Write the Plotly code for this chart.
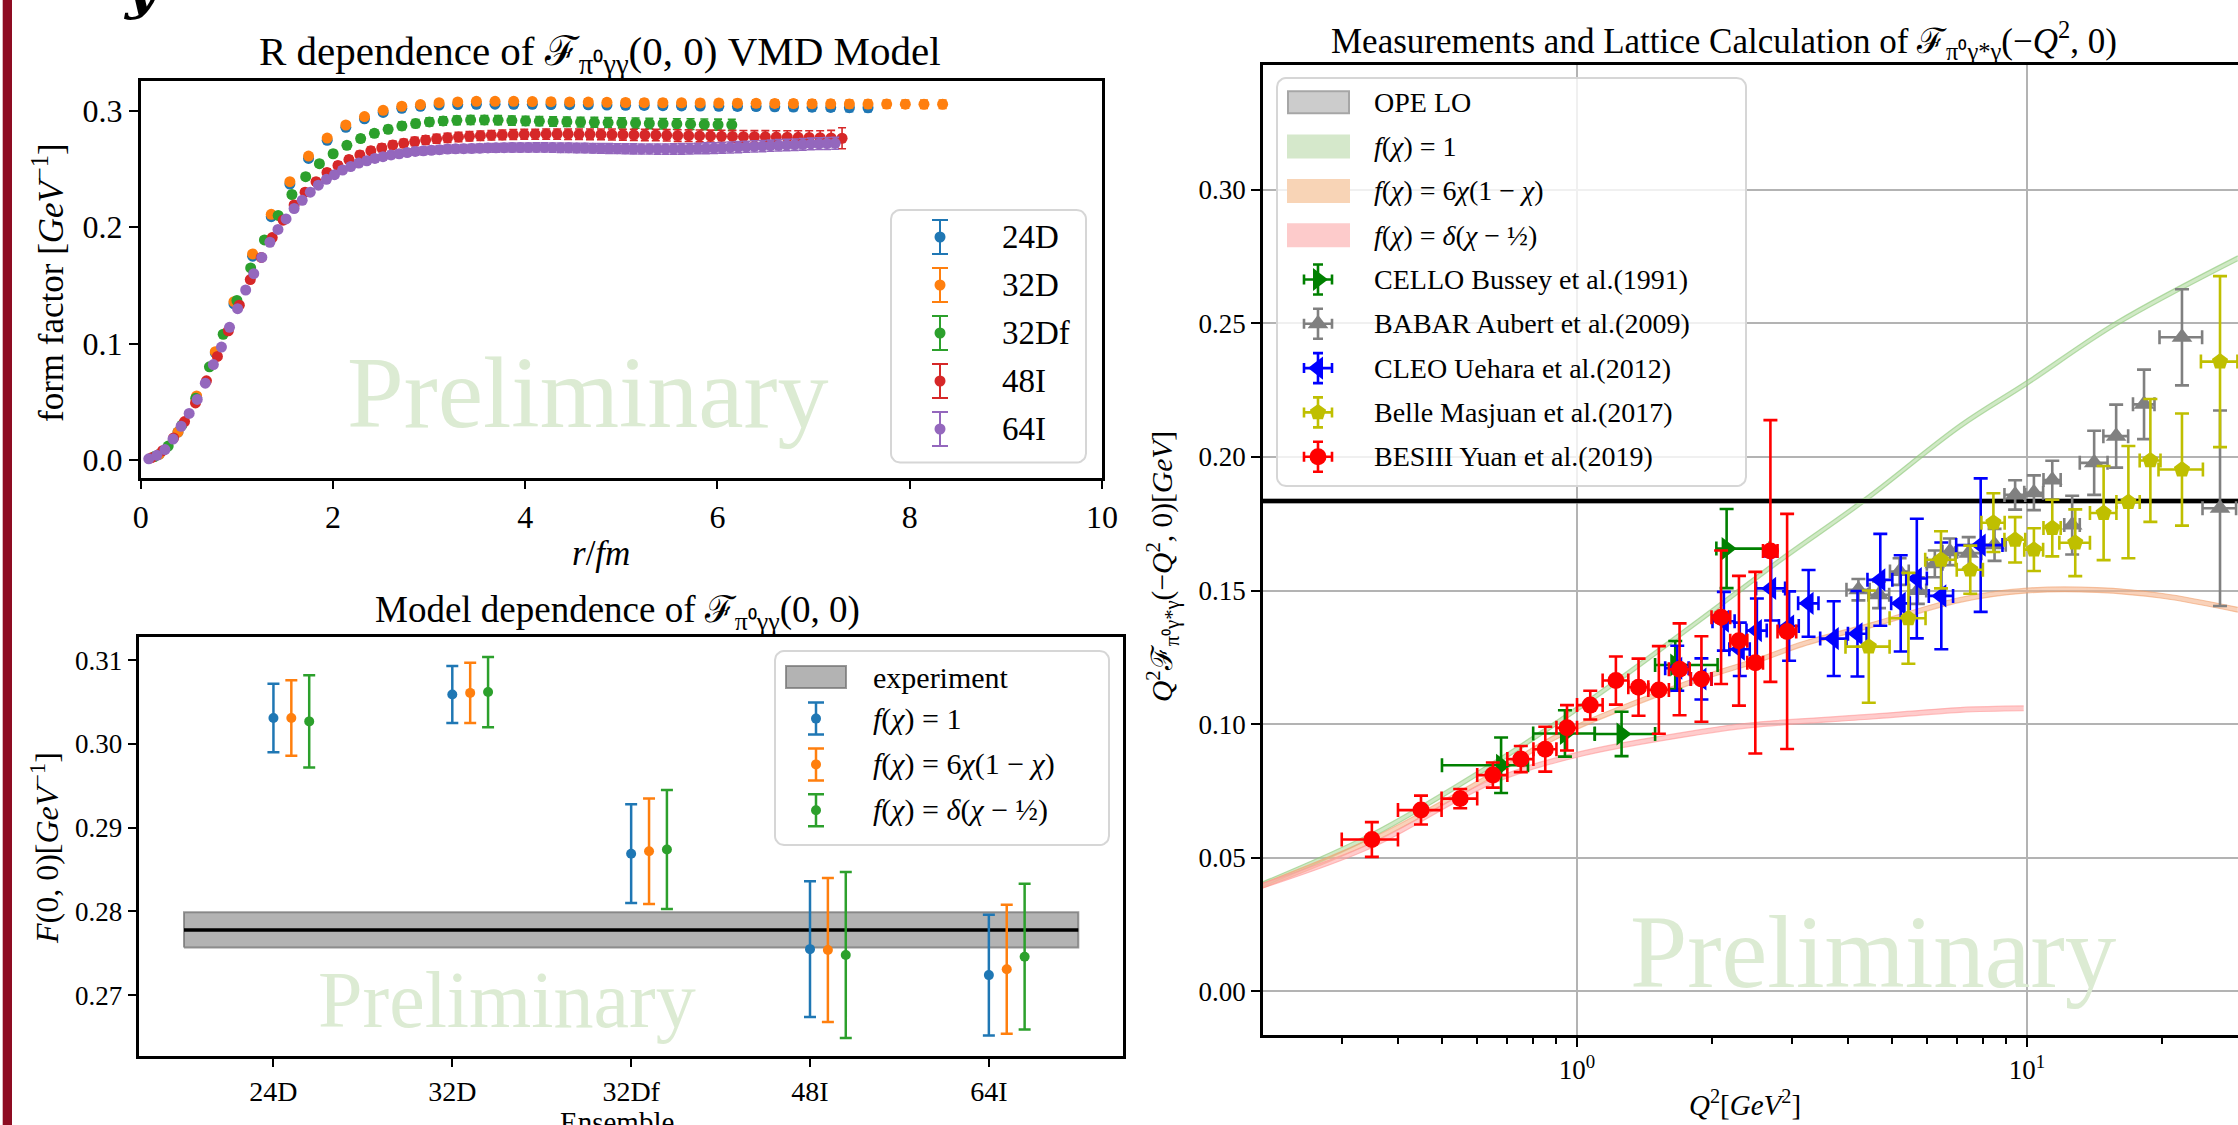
import numpy as np
import plotly.graph_objects as go

W, H = 2238, 1125
FONT = "Liberation Serif"

# ---------------- top-left: R dependence (VMD model) ----------------
a_24D, a_32D, a_32Df, a_48I, a_64I = 0.194, 0.194, 0.143, 0.114, 0.084
ff_24D = [0.005,0.024,0.054,0.092,0.134,0.175,0.209,0.237,0.259,0.2745,
          0.2857,0.293,0.2985,0.302,0.3037,0.3048,0.3053,0.3055,0.3056,0.3055,
          0.3054,0.3053,0.3051,0.3050,0.3048,0.3046,0.3045,0.3043,0.3041,0.3040,
          0.3038,0.3036,0.3035,0.3033,0.3031,0.3030,0.3028,0.3026,0.3025]
err_24D = [0.0005,0.0008,0.0010,0.0012,0.0013,0.0014,0.0015,0.0016,0.0017,0.0018,
           0.0019,0.0020,0.0021,0.0022,0.0022,0.0023,0.0023,0.0024,0.0024,0.0025,
           0.0025,0.0026,0.0026,0.0027,0.0027,0.0028,0.0028,0.0029,0.0029,0.0030,
           0.0030,0.0031,0.0031,0.0032,0.0032,0.0033,0.0033,0.0034,0.0034]
ff_32D = [0.005,0.024,0.055,0.093,0.136,0.177,0.211,0.239,0.261,0.2765,
          0.2877,0.2949,0.3003,0.3038,0.3052,0.3069,0.3075,0.3080,0.3080,0.3080,
          0.3078,0.3077,0.3075,0.3074,0.3072,0.3070,0.3069,0.3068,0.3067,0.3066,
          0.3065,0.3064,0.3063,0.3062,0.3061,0.3060,0.3059,0.3058,0.3057,0.3057,
          0.3056,0.3055,0.3055]
err_32D = [0.0005,0.0008,0.0010,0.0012,0.0013,0.0014,0.0015,0.0016,0.0017,0.0018,
           0.0019,0.0020,0.0021,0.0022,0.0022,0.0023,0.0023,0.0024,0.0024,0.0025,
           0.0025,0.0026,0.0026,0.0027,0.0027,0.0028,0.0028,0.0029,0.0029,0.0030,
           0.0030,0.0031,0.0031,0.0032,0.0032,0.0033,0.0033,0.0034,0.0034,0.0035,
           0.0035,0.0036,0.0036]
ff_32Df = [0.003,0.012,0.030,0.053,0.080,0.108,0.137,0.165,0.189,0.210,
           0.228,0.2433,0.2545,0.263,0.2702,0.276,0.2805,0.284,0.2869,0.2889,
           0.2903,0.2912,0.2917,0.2920,0.2920,0.2918,0.2915,0.2912,0.2910,0.2907,
           0.2905,0.2902,0.2900,0.2898,0.2895,0.2893,0.2890,0.2888,0.2886,0.2884,
           0.2882,0.2880,0.2878]
err_32Df = [0.0005,0.0008,0.0010,0.0012,0.0014,0.0016,0.0018,0.0020,0.0022,0.0024,
            0.0025,0.0026,0.0027,0.0028,0.0029,0.0030,0.0031,0.0032,0.0033,0.0034,
            0.0035,0.0036,0.0037,0.0038,0.0038,0.0039,0.0039,0.0040,0.0040,0.0041,
            0.0041,0.0042,0.0042,0.0043,0.0043,0.0044,0.0044,0.0045,0.0045,0.0046,
            0.0046,0.0047,0.0047]
ff_48I = [0.002,0.008,0.019,0.033,0.049,0.068,0.089,0.111,0.133,0.155,
          0.174,0.191,0.206,0.219,0.230,0.239,0.247,0.253,0.258,0.262,
          0.2655,0.268,0.2705,0.272,0.2735,0.2748,0.2758,0.2767,0.2774,0.278,
          0.2785,0.2789,0.2792,0.2795,0.2797,0.2798,0.2799,0.2799,0.2798,0.2797,
          0.2797,0.2796,0.2795,0.2794,0.2793,0.2791,0.2790,0.2788,0.2786,0.2785,
          0.2783,0.2782,0.2780,0.2779,0.2777,0.2776,0.2775,0.2773,0.2772,0.2771,
          0.2770,0.2768,0.2766,0.2763]
err_48I = [0.0004,0.0006,0.0008,0.0010,0.0012,0.0014,0.0016,0.0018,0.0020,0.0021,
           0.0022,0.0023,0.0024,0.0025,0.0026,0.0027,0.0028,0.0029,0.0030,0.0031,
           0.0032,0.0033,0.0034,0.0035,0.0036,0.0037,0.0038,0.0039,0.0040,0.0040,
           0.0041,0.0041,0.0042,0.0042,0.0043,0.0043,0.0044,0.0044,0.0045,0.0045,
           0.0046,0.0046,0.0047,0.0047,0.0048,0.0048,0.0049,0.0049,0.0050,0.0050,
           0.0051,0.0051,0.0052,0.0052,0.0053,0.0053,0.0054,0.0055,0.0056,0.0057,
           0.0058,0.0060,0.0065,0.0090]
ff_64I = [0.001,0.004,0.009,0.018,0.029,0.040,0.052,0.066,0.082,0.097,
          0.114,0.130,0.146,0.160,0.174,0.187,0.198,0.207,0.216,0.223,
          0.230,0.236,0.241,0.245,0.249,0.252,0.255,0.257,0.259,0.2605,
          0.262,0.263,0.264,0.265,0.2655,0.266,0.2665,0.267,0.2672,0.2674,
          0.2676,0.2678,0.268,0.2681,0.2682,0.2683,0.2683,0.2684,0.2684,0.2684,
          0.2683,0.2682,0.2681,0.2680,0.2679,0.2677,0.2676,0.2675,0.2674,0.2673,
          0.2672,0.2671,0.2671,0.2670,0.2670,0.2671,0.2672,0.2673,0.2675,0.2677,
          0.2679,0.2681,0.2684,0.2687,0.2690,0.2693,0.2696,0.2699,0.2702,0.2705,
          0.2708,0.2711,0.2714,0.2716,0.2718,0.2720]
err_64I = [0.0003,0.0004,0.0005,0.0006,0.0007,0.0008,0.0009,0.0010,0.0011,0.0012,
           0.0013,0.0014,0.0015,0.0016,0.0017,0.0018,0.0019,0.0020,0.0021,0.0022,
           0.0023,0.0024,0.0025,0.0026,0.0027,0.0028,0.0029,0.0030,0.0030,0.0031,
           0.0031,0.0032,0.0032,0.0033,0.0033,0.0034,0.0034,0.0035,0.0035,0.0036,
           0.0036,0.0036,0.0037,0.0037,0.0037,0.0038,0.0038,0.0038,0.0039,0.0039,
           0.0039,0.0040,0.0040,0.0040,0.0041,0.0041,0.0041,0.0042,0.0042,0.0042,
           0.0043,0.0043,0.0043,0.0044,0.0044,0.0044,0.0045,0.0045,0.0045,0.0046,
           0.0046,0.0046,0.0047,0.0047,0.0047,0.0048,0.0048,0.0048,0.0049,0.0049,
           0.0049,0.0050,0.0050,0.0050,0.0051,0.0051]

# ---------------- bottom-left: model dependence ----------------
ensembles = ["24D", "32D", "32Df", "48I", "64I"]
F_flat = [0.3031, 0.3059, 0.2869, 0.2755, 0.2724]
E_flat = [0.0041, 0.0034, 0.0059, 0.0081, 0.0072]
F_asym = [0.3031, 0.3061, 0.2872, 0.2754, 0.2731]
E_asym = [0.0045, 0.0036, 0.0063, 0.0086, 0.0077]
F_delta = [0.3027, 0.3062, 0.2874, 0.2748, 0.2746]
E_delta = [0.0055, 0.0042, 0.0071, 0.0099, 0.0087]
exp_center, exp_err = 0.2778, 0.0021

# ---------------- right: measurements ----------------
ope_lo = 0.1835
q2_f1 = [0.2, 0.35, 0.65, 1.087, 1.877, 2.825, 4.37, 7.1, 9.98, 15.8, 29.4]
v_f1 = [0.040, 0.0584, 0.085, 0.1098, 0.139, 0.1613, 0.184, 0.2116, 0.2276, 0.250, 0.2744]
q2_f6 = [0.2, 0.35, 0.648, 0.917, 1.877, 2.55, 3.18, 4.5, 7.1, 10.0, 14.3, 20.0, 29.4]
v_f6 = [0.0395, 0.0565, 0.081, 0.096, 0.117, 0.1242, 0.130, 0.137, 0.1465, 0.150, 0.1502, 0.148, 0.1428]
q2_fd = [0.2, 0.35, 0.648, 1.0, 1.877, 2.436, 4.53, 7.1, 9.83]
v_fd = [0.0395, 0.0546, 0.0785, 0.0885, 0.097, 0.0996, 0.1028, 0.1053, 0.1059]

cello_q2 = [0.678, 0.94, 1.256, 1.653, 2.15]
cello_v = [0.0846, 0.0965, 0.0963, 0.1221, 0.1657]
cello_ey = [0.0104, 0.0087, 0.0083, 0.009, 0.0148]
cello_exm = [0.177, 0.141, 0.161, 0.162, 0.11]
cello_exp = [0.10, 0.155, 0.235, 0.40, 0.53]

babar_q2 = [4.22, 4.69, 5.21, 5.72, 6.24, 6.74, 7.42, 8.47, 9.41, 10.36, 11.38, 12.6, 14.1, 15.78, 18.2, 22.1, 26.85]
babar_v = [0.1503, 0.1484, 0.1571, 0.150, 0.160, 0.1645, 0.164, 0.1671, 0.1858, 0.1866, 0.1914, 0.1745, 0.1978, 0.2078, 0.2197, 0.2448, 0.1808]
babar_ey = [0.004, 0.005, 0.005, 0.005, 0.005, 0.005, 0.006, 0.006, 0.0055, 0.0065, 0.0072, 0.011, 0.012, 0.0118, 0.013, 0.018, 0.0366]
babar_ex = [0.25, 0.25, 0.25, 0.25, 0.25, 0.25, 0.5, 0.5, 0.5, 0.5, 0.5, 0.5, 1.0, 1.0, 1.0, 2.4, 2.3]

cleo_q2 = [1.67, 1.89, 2.12, 2.30, 2.51, 2.70, 2.96, 3.27, 3.72, 4.20, 4.72, 5.24, 5.69, 6.45, 7.89]
cleo_v = [0.1209, 0.1169, 0.1385, 0.128, 0.135, 0.1508, 0.1367, 0.1452, 0.132, 0.1338, 0.154, 0.1452, 0.1545, 0.148, 0.167]
cleo_ey = [0.0084, 0.0077, 0.011, 0.010, 0.012, 0.012, 0.013, 0.0125, 0.014, 0.016, 0.0172, 0.018, 0.0224, 0.02, 0.025]
cleo_ex = [0.1, 0.1, 0.12, 0.12, 0.13, 0.2, 0.15, 0.17, 0.25, 0.2, 0.3, 0.25, 0.3, 0.4, 0.93]

belle_q2 = [4.45, 5.45, 6.44, 7.48, 8.42, 9.41, 10.36, 11.38, 12.8, 14.8, 16.8, 18.8, 22.1, 26.85]
belle_v = [0.129, 0.1396, 0.1615, 0.1578, 0.1754, 0.169, 0.1653, 0.1734, 0.1679, 0.179, 0.1831, 0.1987, 0.1953, 0.2357]
belle_ey = [0.021, 0.017, 0.0107, 0.009, 0.011, 0.0085, 0.008, 0.0106, 0.0125, 0.0176, 0.021, 0.023, 0.021, 0.032]
belle_ex = [0.5, 0.5, 0.5, 0.5, 0.5, 0.5, 0.5, 0.5, 1.0, 1.0, 1.0, 1.0, 2.5, 2.5]

besiii_q2 = [0.35, 0.45, 0.55, 0.65, 0.75, 0.85, 0.95, 1.07, 1.22, 1.37, 1.52, 1.69, 1.89, 2.09, 2.29, 2.49, 2.69, 2.93]
besiii_v = [0.0568, 0.0678, 0.0721, 0.0809, 0.0869, 0.0906, 0.0986, 0.1071, 0.1163, 0.1138, 0.1128, 0.1205, 0.1169, 0.1400, 0.1312, 0.123, 0.1648, 0.1347]
besiii_ey = [0.0065, 0.0054, 0.0036, 0.0047, 0.0049, 0.0084, 0.0085, 0.0054, 0.009, 0.0107, 0.0164, 0.0172, 0.016, 0.025, 0.0243, 0.034, 0.049, 0.044]
besiii_ex = [0.05, 0.05, 0.05, 0.05, 0.05, 0.05, 0.05, 0.07, 0.08, 0.07, 0.08, 0.09, 0.1, 0.1, 0.1, 0.1, 0.1, 0.14]

# ------------------------------------------------------------------
fig = go.Figure()
TAB = ["#1f77b4", "#ff7f0e", "#2ca02c", "#d62728", "#9467bd"]

# top-left
tl = [("24D", a_24D, ff_24D, err_24D, TAB[0]),
      ("32D", a_32D, ff_32D, err_32D, TAB[1]),
      ("32Df", a_32Df, ff_32Df, err_32Df, TAB[2]),
      ("48I", a_48I, ff_48I, err_48I, TAB[3]),
      ("64I", a_64I, ff_64I, err_64I, TAB[4])]
for name, a, ff, er, c in tl:
    r = a * np.arange(1, len(ff) + 1)
    fig.add_trace(go.Scatter(
        x=r, y=ff, mode="markers", name=name,
        marker=dict(color=c, size=11, line=dict(width=0)),
        error_y=dict(type="data", array=er, color=c, thickness=1.6, width=4),
        xaxis="x", yaxis="y"))

# bottom-left
xi = np.arange(len(ensembles))
lo_edge, hi_edge = xi[0] - 0.5, xi[-1] + 0.5
EXP_FILL, EXP_LINE = "rgba(128,128,128,0.6)", "rgba(110,110,110,0.7)"
fig.add_trace(go.Scatter(
    x=[lo_edge, hi_edge, hi_edge, lo_edge, lo_edge],
    y=[exp_center - exp_err, exp_center - exp_err, exp_center + exp_err, exp_center + exp_err, exp_center - exp_err],
    fill="toself", fillcolor=EXP_FILL, mode="lines", line=dict(color=EXP_LINE, width=2),
    name="experiment", xaxis="x2", yaxis="y2"))
fig.add_trace(go.Scatter(x=[lo_edge, hi_edge], y=[exp_center, exp_center], mode="lines",
                         line=dict(color="black", width=3.5), hoverinfo="skip", xaxis="x2", yaxis="y2"))
LBL_F1 = "<i>f</i>(<i>χ</i>) = 1"
LBL_F6 = "<i>f</i>(<i>χ</i>) = 6<i>χ</i>(1 − <i>χ</i>)"
LBL_FD = "<i>f</i>(<i>χ</i>) = <i>δ</i>(<i>χ</i> − ½)"
bl = [(LBL_F1, F_flat, E_flat, TAB[0], 0.0),
      (LBL_F6, F_asym, E_asym, TAB[1], 0.1),
      (LBL_FD, F_delta, E_delta, TAB[2], 0.2)]
for name, F, E, c, off in bl:
    fig.add_trace(go.Scatter(
        x=xi + off, y=F, mode="markers", name=name,
        marker=dict(color=c, size=10, line=dict(width=0)),
        error_y=dict(type="data", array=E, color=c, thickness=2.5, width=6),
        xaxis="x2", yaxis="y2"))

# right: bands
hw = 0.0009
BANDS = [("OPE LO", "#cccccc", "#a6a6a6"),
         (LBL_F1, "#d5e8cb", "#d5e8cb"),
         (LBL_F6, "#f8d4b6", "#f8d4b6"),
         (LBL_FD, "#fdcbcb", "#fdcbcb")]

def band(q, v, fillc, linec):
    lo = [y - hw for y in v]
    hi = [y + hw for y in v]
    fig.add_trace(go.Scatter(x=q, y=lo, mode="lines", line=dict(color=linec, width=1.2, shape="spline"),
                             hoverinfo="skip", xaxis="x3", yaxis="y3"))
    fig.add_trace(go.Scatter(x=q, y=hi, mode="lines", line=dict(color=linec, width=1.2, shape="spline"),
                             fill="tonexty", fillcolor=fillc, xaxis="x3", yaxis="y3"))

xr = [0.1, 100]
band(xr, [ope_lo, ope_lo], "rgba(128,128,128,0.4)", "rgba(128,128,128,0.6)")
band(q2_f1, v_f1, "rgba(170,215,150,0.55)", "rgba(140,200,120,0.6)")
band(q2_f6, v_f6, "rgba(245,180,140,0.6)", "rgba(240,160,110,0.6)")
band(q2_fd, v_fd, "rgba(255,170,170,0.6)", "rgba(255,150,150,0.6)")
fig.add_trace(go.Scatter(x=xr, y=[ope_lo] * 2, mode="lines", line=dict(color="black", width=4),
                         hoverinfo="skip", xaxis="x3", yaxis="y3"))

DATA = [("CELLO Bussey et al.(1991)", "triangle-right", 20, "#008000"),
        ("BABAR Aubert et al.(2009)", "triangle-up", 18, "#808080"),
        ("CLEO Uehara et al.(2012)", "triangle-left", 20, "#0000ff"),
        ("Belle Masjuan et al.(2017)", "pentagon", 17, "#bfbf00"),
        ("BESIII Yuan et al.(2019)", "circle", 17, "#ff0000")]
sets = [(cello_q2, cello_v, cello_ey, cello_exp, cello_exm),
        (babar_q2, babar_v, babar_ey, babar_ex, None),
        (cleo_q2, cleo_v, cleo_ey, cleo_ex, None),
        (belle_q2, belle_v, belle_ey, belle_ex, None),
        (besiii_q2, besiii_v, besiii_ey, besiii_ex, None)]
for (name, sym, size, c), (q, v, ey, exp_, exm) in zip(DATA, sets):
    ex = dict(type="data", array=exp_, color=c, thickness=2.6, width=7)
    if exm is not None:
        ex.update(symmetric=False, arrayminus=exm)
    fig.add_trace(go.Scatter(
        x=q, y=v, mode="markers", name=name,
        marker=dict(symbol=sym, size=size, color=c, line=dict(width=0)),
        error_y=dict(type="data", array=ey, color=c, thickness=2.6, width=7),
        error_x=ex, xaxis="x3", yaxis="y3"))

# ---------------- legends (drawn on a pixel overlay axis) ----------------
def rounded_box(x0, y0, x1, y1, rad=9):
    xs, ys = [], []
    for cx, cy, a0 in [(x1 - rad, y0 + rad, -90), (x1 - rad, y1 - rad, 0),
                       (x0 + rad, y1 - rad, 90), (x0 + rad, y0 + rad, 180)]:
        t = np.radians(np.linspace(a0, a0 + 90, 8))
        xs += list(cx + rad * np.cos(t)); ys += list(cy + rad * np.sin(t))
    return xs + xs[:1], ys + ys[:1]

def legend_box(x0, y0, x1, y1):
    bx, by = rounded_box(x0, y0, x1, y1)
    fig.add_trace(go.Scatter(x=bx, y=by, mode="lines", fill="toself",
                             fillcolor="rgba(255,255,255,0.8)", line=dict(color="#d6d6d6", width=2),
                             hoverinfo="skip", xaxis="x4", yaxis="y4"))

def legend_marker(x, y, c, sym, size, ey, ex, cap, thick):
    kw = dict(error_y=dict(type="data", array=[ey], color=c, thickness=thick, width=cap))
    if ex:
        kw["error_x"] = dict(type="data", array=[ex], color=c, thickness=thick, width=cap)
    fig.add_trace(go.Scatter(x=[x], y=[y], mode="markers",
                             marker=dict(symbol=sym, size=size, color=c, line=dict(width=0)),
                             hoverinfo="skip", xaxis="x4", yaxis="y4", **kw))

def legend_text(text, x, y, size):
    fig.add_annotation(text=text, x=x / W, y=1 - y / H, xref="paper", yref="paper", showarrow=False,
                       xanchor="left", yanchor="middle", font=dict(family=FONT, size=size, color="black"))

def swatch(x0, x1, y, h, fillc, linec):
    fig.add_shape(type="rect", xref="paper", yref="paper", x0=x0 / W, x1=x1 / W,
                  y0=1 - (y + h / 2) / H, y1=1 - (y - h / 2) / H, fillcolor=fillc,
                  line=dict(color=linec, width=2), layer="above")

# top-left legend
legend_box(891, 210, 1086, 462.5)
for k, (name, _, _, _, c) in enumerate(tl):
    yy = 237 + 48 * k
    legend_marker(940, yy, c, "circle", 11, 17, None, 8, 2)
    legend_text(name, 1000, yy, 33)

# bottom-left legend
legend_box(775, 651, 1109, 845)
swatch(786, 846, 677, 22, EXP_FILL, EXP_LINE)
legend_text("experiment", 871, 677, 30)
for k, (name, _, _, c, _) in enumerate(bl):
    yy = 718.6 + 45.8 * k
    legend_marker(816, yy, c, "circle", 10, 16, None, 8, 2.5)
    legend_text(name, 871, yy, 30)

# right legend
legend_box(1277, 78, 1746, 486)
for k, (name, fc, lc) in enumerate(BANDS):
    yy = 102.3 + 44.3 * k
    swatch(1288, 1349, yy, 22, fc, lc)
    legend_text(name, 1372, yy, 28)
for k, (name, sym, size, c) in enumerate(DATA):
    yy = 102.3 + 44.3 * (k + 4)
    legend_marker(1318, yy, c, sym, size, 15, 14, 5, 2.6)
    legend_text(name, 1372, yy, 28)

# ------------------------------------------------------------------
def dx(a, b): return [a / W, b / W]
def dy(top, bot): return [1 - bot / H, 1 - top / H]

def axis_common(size):
    return dict(showline=True, linecolor="black", linewidth=2.5, ticks="outside",
                ticklen=9, tickwidth=2, tickcolor="black", zeroline=False,
                tickfont=dict(family=FONT, size=size, color="black"))

layout = dict(
    width=W, height=H, margin=dict(l=0, r=0, t=0, b=0, autoexpand=False),
    paper_bgcolor="white", plot_bgcolor="rgba(0,0,0,0)", showlegend=False,
    font=dict(family=FONT, color="black"),
    xaxis=dict(domain=dx(140.7, 1102), range=[0, 10], tickvals=[0, 2, 4, 6, 8, 10],
               anchor="y", mirror=True, showgrid=False, **axis_common(32)),
    yaxis=dict(domain=dy(80.5, 477.5), range=[-0.015, 0.3259], tickvals=[0, 0.1, 0.2, 0.3],
               ticktext=["0.0", "0.1", "0.2", "0.3"], anchor="x", mirror=True, showgrid=False, **axis_common(32)),
    xaxis2=dict(domain=dx(139.3, 1123), range=[-0.75, 4.75], tickvals=list(xi), ticktext=ensembles,
                anchor="y2", mirror=True, showgrid=False, **axis_common(28)),
    yaxis2=dict(domain=dy(636.8, 1055.5), range=[0.2628, 0.3128], tickvals=[0.27, 0.28, 0.29, 0.30, 0.31],
                ticktext=["0.27", "0.28", "0.29", "0.30", "0.31"], anchor="x2", mirror=True, showgrid=False,
                **axis_common(27)),
    xaxis3=dict(domain=dx(1263, W), type="log", range=[np.log10(0.2005), 1.4689], tickvals=[1, 10],
                ticktext=["10<sup>0</sup>", "10<sup>1</sup>"], anchor="y3", mirror=True,
                showgrid=True, gridcolor="#b3b3b3", gridwidth=2,
                minor=dict(tickvals=[0.3, 0.4, 0.5, 0.6, 0.7, 0.8, 0.9, 2, 3, 4, 5, 6, 7, 8, 9, 20],
                           ticks="outside", ticklen=6, tickwidth=1.5, tickcolor="black", showgrid=False),
                **axis_common(27)),
    yaxis3=dict(domain=dy(65.4, 1035), range=[-0.0164, 0.3466],
                tickvals=[0, 0.05, 0.10, 0.15, 0.20, 0.25, 0.30],
                ticktext=["0.00", "0.05", "0.10", "0.15", "0.20", "0.25", "0.30"],
                anchor="x3", mirror=False, showgrid=True, gridcolor="#b3b3b3", gridwidth=2,
                **axis_common(27)),
    xaxis4=dict(domain=[0, 1], range=[0, W], visible=False, anchor="y4", fixedrange=True),
    yaxis4=dict(domain=[0, 1], range=[H, 0], visible=False, anchor="x4", fixedrange=True),
)
fig.update_layout(**layout)

def ann(text, x, y, size, angle=0, color="black", xanchor="center", yanchor="middle", family=FONT):
    fig.add_annotation(text=text, x=x / W, y=1 - y / H, xref="paper", yref="paper",
                       showarrow=False, textangle=angle, xanchor=xanchor, yanchor=yanchor,
                       font=dict(family=family, size=size, color=color))

# watermarks
WM = "#dcebd3"
ann("Preliminary", 588, 392, 102, color=WM)
ann("Preliminary", 507, 1000, 80, color=WM)
ann("Preliminary", 1873, 952, 103, color=WM)

# titles and labels
ann("R dependence of ℱ<sub>π⁰γγ</sub>(0, 0) VMD Model", 600, 54, 41)
ann("Model dependence of ℱ<sub>π⁰γγ</sub>(0, 0)", 617, 612, 37)
ann("Measurements and Lattice Calculation of ℱ<sub>π⁰γ*γ</sub>(−<i>Q</i><sup>2</sup>, 0)", 1724, 40, 35)
ann("<i>r</i>/<i>fm</i>", 601, 553, 35)
ann("form factor [<i>GeV</i><sup>−1</sup>]", 48, 283, 35, angle=-90)
ann("<i>F</i>(0, 0)[<i>GeV</i><sup>−1</sup>]", 45, 848, 32, angle=-90)
ann("Ensemble", 617, 1122, 29)
ann("<i>Q</i><sup>2</sup>ℱ<sub>π⁰γ*γ</sub>(−<i>Q</i><sup>2</sup>, 0)[<i>GeV</i>]", 1163, 567, 29.5, angle=-90)
ann("<i>Q</i><sup>2</sup>[<i>GeV</i><sup>2</sup>]", 1745, 1103, 29)

# slide decorations
fig.add_shape(type="rect", xref="paper", yref="paper", x0=2.7 / W, x1=12 / W, y0=0, y1=1,
              fillcolor="#8e0c22", line=dict(width=0), layer="above")
ann("<b><i>y</i></b>", 142, -12, 56, family="DejaVu Serif")

fig.write_html("out.html", config={"displayModeBar": False},
               post_script="document.body.style.margin='0';document.body.style.overflow='hidden';")
